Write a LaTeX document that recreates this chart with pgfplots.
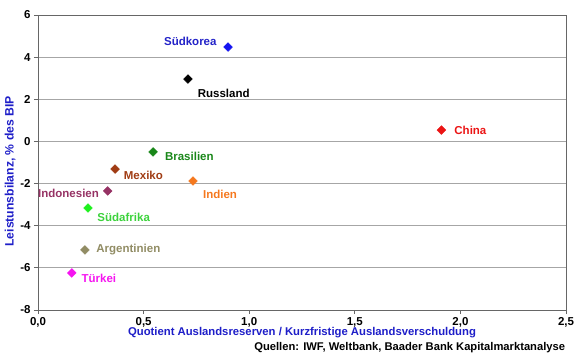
\documentclass[border=0pt]{standalone}
\usepackage{fontspec}
\setmainfont{Liberation Sans}
\usepackage{pgfplots}
\pgfplotsset{compat=1.18}
\definecolor{cKor}{RGB}{20,20,240}
\definecolor{cKorT}{RGB}{35,35,200}
\definecolor{cChn}{RGB}{235,20,20}
\definecolor{cBra}{RGB}{25,135,25}
\definecolor{cMex}{RGB}{160,60,20}
\definecolor{cInd}{RGB}{245,120,30}
\definecolor{cIdn}{RGB}{150,50,100}
\definecolor{cZaf}{RGB}{30,240,30}
\definecolor{cZafT}{RGB}{60,210,60}
\definecolor{cArg}{RGB}{145,140,100}
\definecolor{cTur}{RGB}{245,20,240}
\definecolor{cAx}{RGB}{30,30,200}
\tikzset{lbl/.style={font=\fontsize{11.5bp}{13bp}\selectfont\bfseries}}
\begin{document}
\begin{tikzpicture}
\path[use as bounding box] (-38bp,-49bp) rectangle (542bp,310bp);
\begin{axis}[
  at={(0,0)}, anchor=south west,
  scale only axis, width=528bp, height=295bp,
  xmin=0, xmax=2.5, ymin=-8, ymax=6,
  xtick={0,0.5,...,2.5}, ytick={-8,-6,...,6},
  ymajorgrids, grid style={gray!70, line width=0.8pt},
  axis line style={gray!80!black, line width=0.8pt},
  tick style={gray!80!black, line width=0.8pt},
  tick align=outside, major tick length=4bp,
  xtick pos=bottom, ytick pos=left,
  /pgf/number format/.cd, use comma, fixed, fixed zerofill, precision=1, assume math mode=true,
  /pgfplots/.cd,
  yticklabel={\pgfmathprintnumber[fixed,precision=0,zerofill=false]{\tick}},
  ticklabel style={font=\fontsize{11.5bp}{13bp}\selectfont\bfseries},
  xlabel={Quotient Auslandsreserven / Kurzfristige Auslandsverschuldung},
  ylabel={Leistunsbilanz, \% des BIP},
  label style={font=\fontsize{11.3bp}{13bp}\selectfont\bfseries, text=cAx},
  xlabel style={at={(axis description cs:0.5,0)}, anchor=north, yshift=-14bp},
  ylabel style={at={(axis description cs:0,0.47)}, anchor=south, yshift=19bp, font=\fontsize{12.2bp}{14bp}\selectfont\bfseries},
  clip=false,
]
\pgfplotsset{every axis plot/.append style={only marks, mark=square*, mark size=3.1bp, mark options={rotate=45}}}
\addplot[color=cKor] coordinates {(0.90,4.48)};
\addplot[color=black] coordinates {(0.71,2.96)};
\addplot[color=cChn] coordinates {(1.91,0.54)};
\addplot[color=cBra] coordinates {(0.545,-0.50)};
\addplot[color=cMex] coordinates {(0.365,-1.31)};
\addplot[color=cInd] coordinates {(0.734,-1.88)};
\addplot[color=cIdn] coordinates {(0.33,-2.35)};
\addplot[color=cZaf] coordinates {(0.237,-3.16)};
\addplot[color=cArg] coordinates {(0.222,-5.15)};
\addplot[color=cTur] coordinates {(0.16,-6.24)};
\node[lbl, text=cKorT, anchor=east] at (axis cs:0.862,4.75) {Südkorea};
\node[lbl, text=black, anchor=west] at (axis cs:0.74,2.3) {Russland};
\node[lbl, text=cChn, anchor=west] at (axis cs:1.955,0.54) {China};
\node[lbl, text=cBra, anchor=west] at (axis cs:0.585,-0.73) {Brasilien};
\node[lbl, text=cMex, anchor=west] at (axis cs:0.39,-1.63) {Mexiko};
\node[lbl, text=cInd, anchor=west] at (axis cs:0.765,-2.50) {Indien};
\node[lbl, text=cIdn, anchor=east] at (axis cs:0.305,-2.45) {Indonesien};
\node[lbl, text=cZafT, anchor=west] at (axis cs:0.265,-3.60) {Südafrika};
\node[lbl, text=cArg, anchor=west] at (axis cs:0.26,-5.15) {Argentinien};
\node[lbl, text=cTur, anchor=west] at (axis cs:0.19,-6.50) {Türkei};
\node[font=\fontsize{11.2bp}{13bp}\selectfont\bfseries, anchor=north east] at (axis description cs:1.005,0) [yshift=-29bp] {Quellen: IWF, Weltbank, Baader Bank Kapitalmarktanalyse};
\end{axis}
\end{tikzpicture}
\end{document}
